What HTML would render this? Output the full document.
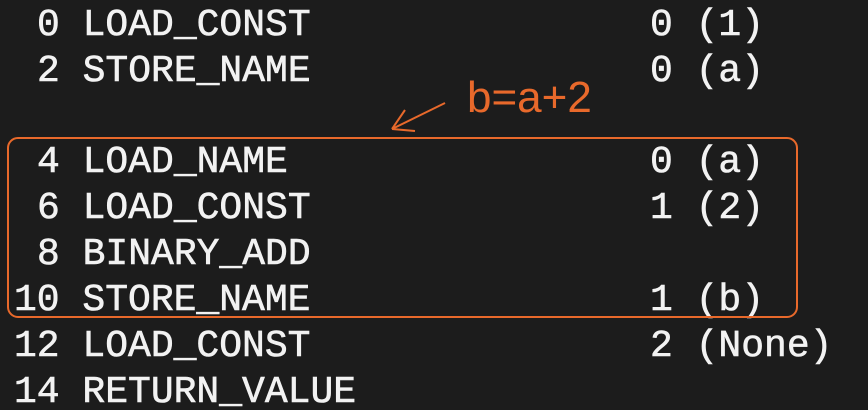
<!DOCTYPE html>
<html><head><meta charset="utf-8"><style>
html,body{margin:0;padding:0;background:#1c1c1c;width:868px;height:410px;overflow:hidden}
</style></head><body>
<svg width="868" height="410" xmlns="http://www.w3.org/2000/svg">
<rect width="868" height="410" fill="#1c1c1c"/>
<g font-family="Liberation Mono, monospace" font-size="38" fill="#f2f2f2" stroke="#f2f2f2" stroke-width="0.6">
<text x="37" y="35">0 LOAD_CONST</text><text x="650" y="35">0 (1)</text>
<text x="37" y="81">2 STORE_NAME</text><text x="650" y="81">0 (a)</text>
<text x="37" y="172">4 LOAD_NAME</text><text x="650" y="172">0 (a)</text>
<text x="37" y="218">6 LOAD_CONST</text><text x="650" y="218">1 (2)</text>
<text x="37" y="264">8 BINARY_ADD</text>
<text x="14" y="310">10 STORE_NAME</text><text x="650" y="310">1 (b)</text>
<text x="14" y="356">12 LOAD_CONST</text><text x="650" y="356">2 (None)</text>
<text x="14" y="402">14 RETURN_VALUE</text>
</g>
<rect x="8" y="138" width="789" height="179" rx="10" fill="none" stroke="#e8692b" stroke-width="2"/>
<g stroke="#e8692b" stroke-width="2" fill="none">
<line x1="445" y1="103" x2="392" y2="129"/>
<line x1="392" y1="129" x2="405" y2="110"/>
<line x1="392" y1="129" x2="415" y2="131"/>
</g>
<text x="467" y="112" font-family="Liberation Sans, sans-serif" font-size="44" fill="#e8692b">b=a+2</text>
</svg>
</body></html>
